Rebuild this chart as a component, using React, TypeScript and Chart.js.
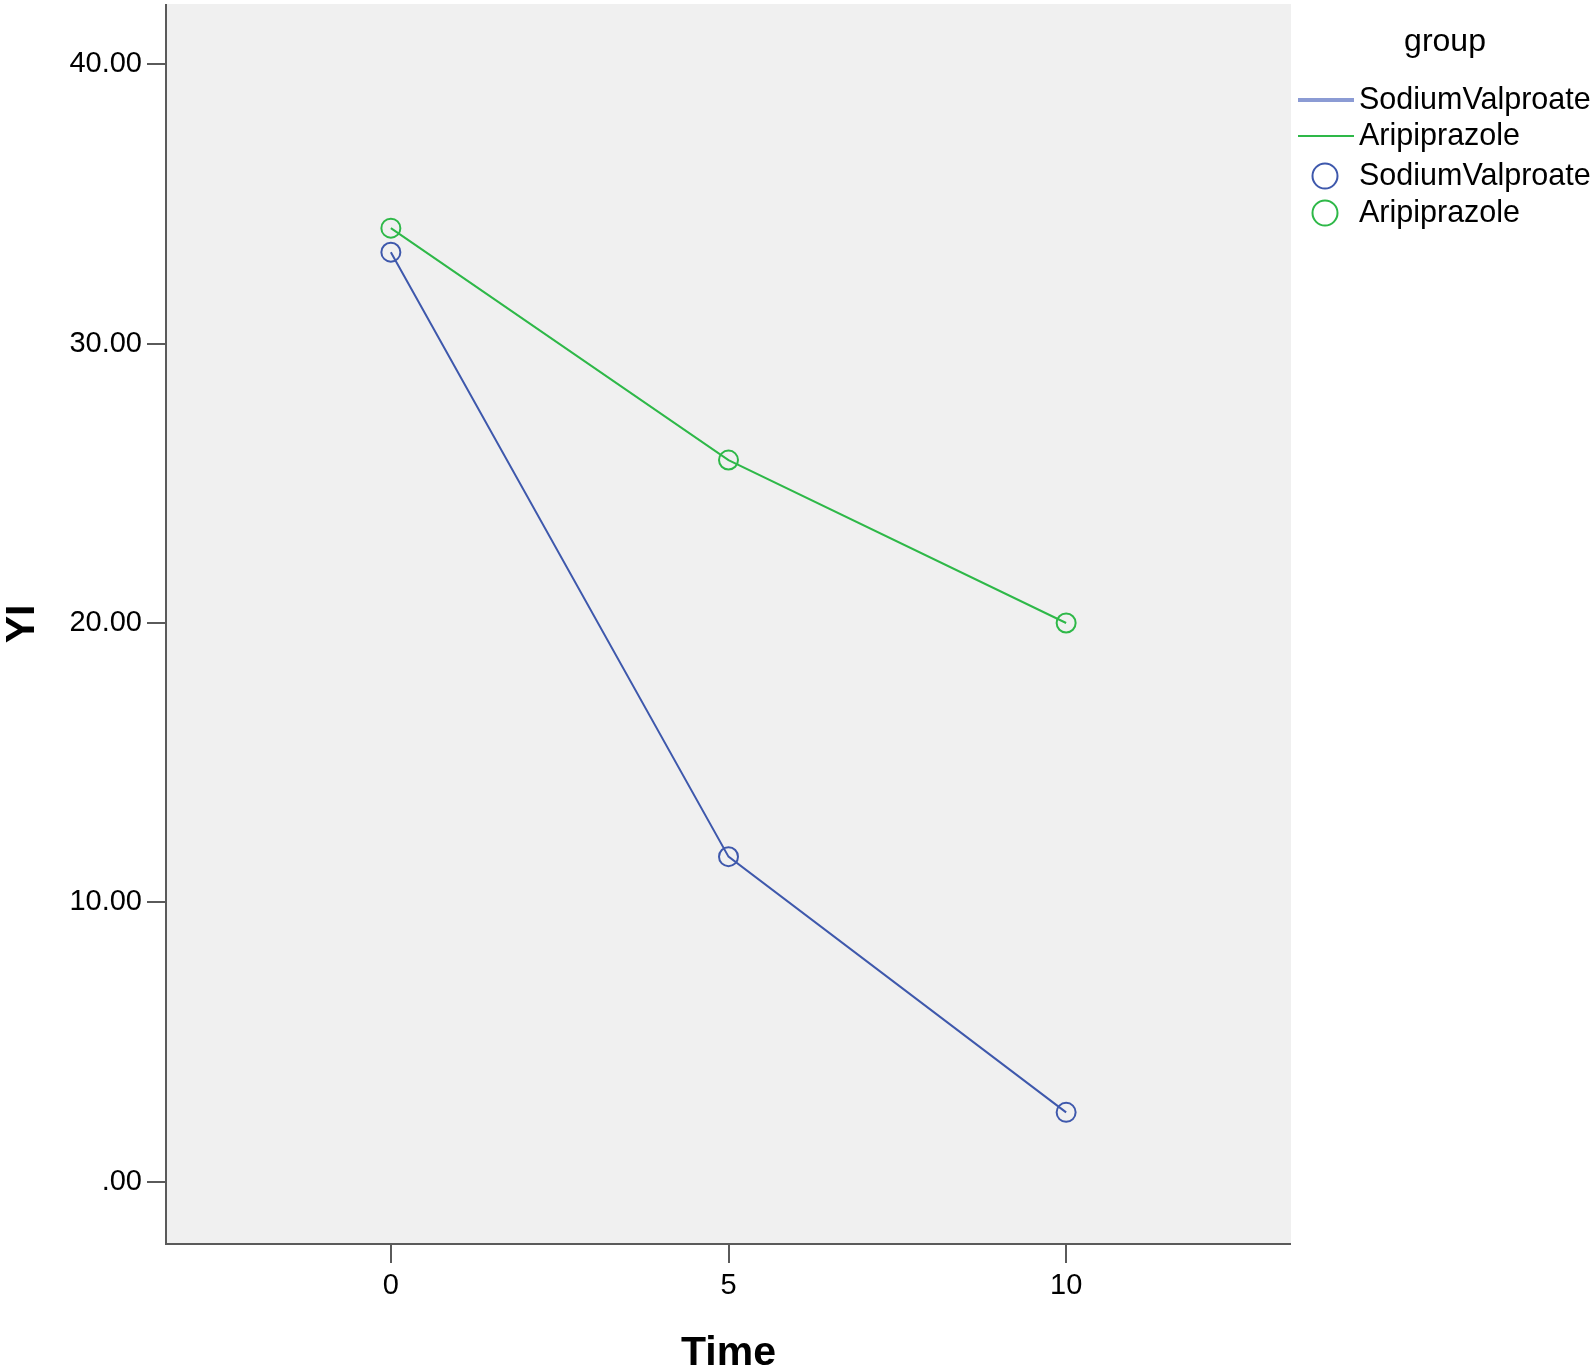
import React, { useEffect, useRef } from "react";
import { Chart, registerables } from "chart.js";

Chart.register(...registerables);

const timePoints = [0, 5, 10];
const sodiumValproate = [33.27, 11.64, 2.49];
const aripiprazole = [34.13, 25.83, 20.0];
const seriesNames = ["SodiumValproate", "Aripiprazole"];
const legendTitle = "group";
const xTitle = "Time";
const yTitle = "YI";

const FONT = "'Liberation Sans', Arial, sans-serif";
const BLUE = "#3e58ac";
const GREEN = "#2eb848";
const BLUE_LEGEND = "#8b9bd4";

const bgPlugin = {
  id: "plotBg",
  beforeDraw(chart: any) {
    const { ctx, chartArea: a } = chart;
    ctx.save();
    ctx.fillStyle = "#f0f0f0";
    ctx.fillRect(a.left, a.top, a.right - a.left, a.bottom - a.top);
    ctx.restore();
  },
  afterDraw(chart: any) {
    const { ctx, chartArea: a } = chart;
    ctx.save();
    ctx.strokeStyle = "#5a5a5a";
    ctx.lineWidth = 2;
    ctx.beginPath();
    ctx.moveTo(a.left, a.top);
    ctx.lineTo(a.left, a.bottom);
    ctx.lineTo(a.right, a.bottom);
    ctx.stroke();

    const ds = chart.data.datasets;
    ctx.fillStyle = "#000";
    ctx.textBaseline = "middle";
    ctx.textAlign = "center";
    ctx.font = `32px ${FONT}`;
    ctx.fillText(legendTitle, 1445, 42);
    ctx.textAlign = "left";
    ctx.font = `30.5px ${FONT}`;
    const rows = [100, 136, 176, 213];
    const lineColors = [BLUE_LEGEND, ds[1].borderColor];
    const lineWidths = [4, 2];
    for (let i = 0; i < 2; i++) {
      ctx.strokeStyle = lineColors[i];
      ctx.lineWidth = lineWidths[i];
      ctx.beginPath();
      ctx.moveTo(1298, rows[i]);
      ctx.lineTo(1354, rows[i]);
      ctx.stroke();
      ctx.fillText(ds[i].label, 1359, rows[i] + 1);
    }
    for (let i = 0; i < 2; i++) {
      ctx.strokeStyle = ds[i].pointBorderColor;
      ctx.lineWidth = 2;
      ctx.beginPath();
      ctx.arc(1325, rows[i + 2], 12.5, 0, Math.PI * 2);
      ctx.stroke();
      ctx.fillText(ds[i].label, 1359, rows[i + 2] + 1);
    }
    ctx.restore();
  },
};

export default function App() {
  const ref = useRef<HTMLCanvasElement | null>(null);
  useEffect(() => {
    if (!ref.current) return;
    const toXY = (vals: number[]) => vals.map((v, i) => ({ x: timePoints[i], y: v }));
    const chart = new Chart(ref.current, {
      type: "line",
      data: {
        datasets: [
          {
            label: seriesNames[0],
            data: toXY(sodiumValproate),
            borderColor: BLUE,
            borderWidth: 2,
            pointRadius: 9.5,
            pointBorderWidth: 2,
            pointBorderColor: BLUE,
            pointBackgroundColor: "rgba(0,0,0,0)",
            fill: false,
          },
          {
            label: seriesNames[1],
            data: toXY(aripiprazole),
            borderColor: GREEN,
            borderWidth: 2,
            pointRadius: 9.5,
            pointBorderWidth: 2,
            pointBorderColor: GREEN,
            pointBackgroundColor: "rgba(0,0,0,0)",
            fill: false,
          },
        ],
      },
      plugins: [bgPlugin],
      options: {
        animation: false,
        responsive: false,
        maintainAspectRatio: false,
        layout: { autoPadding: false, padding: { left: 0, top: 4, right: 304, bottom: 0 } },
        plugins: { legend: { display: false }, tooltip: { enabled: false } },
        scales: {
          x: {
            type: "linear",
            min: -3.33,
            max: 13.33,
            afterFit: (s: any) => {
              s.height = 125;
              s.paddingLeft = 0;
              s.paddingRight = 0;
            },
            border: { display: false },
            grid: {
              drawOnChartArea: false,
              drawTicks: true,
              tickLength: 19,
              color: "#5a5a5a",
              lineWidth: 2,
            },
            ticks: {
              stepSize: 5,
              includeBounds: false,
              padding: 6,
              color: "#000",
              font: { family: FONT, size: 29 },
              callback: (v: any) => String(v),
            },
            title: {
              display: true,
              text: xTitle,
              color: "#000",
              font: { family: FONT, size: 41, weight: "bold", lineHeight: 0.75 },
              padding: 0,
            },
          },
          y: {
            type: "linear",
            min: -2.22,
            max: 42.15,
            afterFit: (s: any) => {
              s.width = 166;
              s.paddingTop = 0;
              s.paddingBottom = 0;
            },
            border: { display: false },
            grid: {
              drawOnChartArea: false,
              drawTicks: true,
              tickLength: 19,
              color: "#5a5a5a",
              lineWidth: 2,
            },
            ticks: {
              stepSize: 10,
              includeBounds: false,
              padding: 5,
              color: "#000",
              font: { family: FONT, size: 29 },
              callback: (v: any) => (v === 0 ? ".00" : Number(v).toFixed(2)),
            },
            title: {
              display: true,
              text: yTitle,
              color: "#000",
              font: { family: FONT, size: 41, weight: "bold", lineHeight: 1.1 },
              padding: 0,
            },
          },
        },
      },
    } as any);
    return () => chart.destroy();
  }, []);
  return (
    <div style={{ position: "absolute", left: 0, top: 0, width: 1595, height: 1369, background: "#fff" }}>
      <canvas ref={ref} width={1595} height={1369} style={{ width: 1595, height: 1369 }} />
    </div>
  );
}
